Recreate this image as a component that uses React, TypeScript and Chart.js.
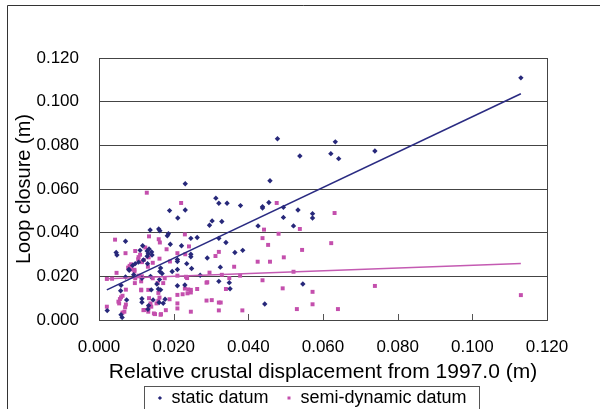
import React, { useEffect, useRef } from "react";
import { Chart, registerables } from "chart.js";

Chart.register(...registerables);

// ---- data (metres) ----
const xTicks = [0, 0.02, 0.04, 0.06, 0.08, 0.1, 0.12];
const yTicks = [0, 0.02, 0.04, 0.06, 0.08, 0.1, 0.12];

const staticLabel = "static datum";
const semiLabel = "semi-dynamic datum";
const xTitle = "Relative crustal displacement from 1997.0 (m)";
const yTitle = "Loop closure (m)";

const staticDatum: [number, number][] = [
  [0.1130, 0.1109], [0.0739, 0.0774], [0.0478, 0.0830], [0.0633, 0.0816], [0.0621, 0.0762],
  [0.0642, 0.0739], [0.0538, 0.0751], [0.0458, 0.0638], [0.0231, 0.0624], [0.0313, 0.0558],
  [0.0321, 0.0535], [0.0343, 0.0535], [0.0379, 0.0524], [0.0438, 0.0519], [0.0438, 0.0513],
  [0.0455, 0.0538], [0.0494, 0.0516], [0.0533, 0.0504], [0.0572, 0.0487], [0.0572, 0.0467],
  [0.0494, 0.0470], [0.0521, 0.0431], [0.0426, 0.0431], [0.0231, 0.0504], [0.0189, 0.0501],
  [0.0211, 0.0467], [0.0296, 0.0434], [0.0303, 0.0454], [0.0329, 0.0451], [0.0444, 0.0073],
  [0.0546, 0.0165], [0.0351, 0.0143], [0.0349, 0.0171], [0.0321, 0.0177], [0.0325, 0.0242],
  [0.0364, 0.0309], [0.0385, 0.0319], [0.0340, 0.0355], [0.0321, 0.0374], [0.0263, 0.0378],
  [0.0246, 0.0374], [0.0290, 0.0284], [0.0271, 0.0205], [0.0137, 0.0412], [0.0160, 0.0417],
  [0.0163, 0.0409], [0.0183, 0.0386], [0.0186, 0.0395], [0.0191, 0.0347], [0.0221, 0.0340],
  [0.0246, 0.0301], [0.0246, 0.0290], [0.0210, 0.0268], [0.0210, 0.0277], [0.0235, 0.0258],
  [0.0248, 0.0236], [0.0210, 0.0231], [0.0196, 0.0222], [0.0165, 0.0238], [0.0163, 0.0222],
  [0.0169, 0.0213], [0.0138, 0.0200], [0.0115, 0.0191], [0.0093, 0.0207], [0.0071, 0.0197],
  [0.0080, 0.0231], [0.0090, 0.0250], [0.0097, 0.0258], [0.0106, 0.0265], [0.0130, 0.0258],
  [0.0119, 0.0275], [0.0129, 0.0292], [0.0142, 0.0298], [0.0129, 0.0316], [0.0134, 0.0325],
  [0.0110, 0.0319], [0.0117, 0.0340], [0.0071, 0.0361], [0.0046, 0.0309], [0.0048, 0.0298],
  [0.0132, 0.0304], [0.0141, 0.0312], [0.0210, 0.0157], [0.0230, 0.0160], [0.0155, 0.0165],
  [0.0165, 0.0138], [0.0140, 0.0138], [0.0145, 0.0092], [0.0133, 0.0066], [0.0131, 0.0049],
  [0.0115, 0.0081], [0.0115, 0.0097], [0.0074, 0.0092], [0.0058, 0.0134], [0.0059, 0.0159],
  [0.0022, 0.0043], [0.0059, 0.0024], [0.0062, 0.0012], [0.0172, 0.0077], [0.0162, 0.0185],
  [0.0159, 0.0142], [0.0161, 0.0080], [0.0177, 0.0095], [0.0081, 0.0228],
];

const semiDynamicDatum: [number, number][] = [
  [0.1130, 0.0114], [0.0739, 0.0156], [0.0128, 0.0583], [0.0220, 0.0536], [0.0476, 0.0536],
  [0.0631, 0.0490], [0.0622, 0.0352], [0.0538, 0.0417], [0.0442, 0.0414], [0.0438, 0.0375],
  [0.0481, 0.0395], [0.0453, 0.0344], [0.0544, 0.0321], [0.0495, 0.0287], [0.0425, 0.0267],
  [0.0458, 0.0267], [0.0521, 0.0221], [0.0362, 0.0244], [0.0378, 0.0203], [0.0438, 0.0182],
  [0.0492, 0.0145], [0.0572, 0.0129], [0.0572, 0.0072], [0.0530, 0.0050], [0.0640, 0.0050],
  [0.0384, 0.0044], [0.0321, 0.0080], [0.0326, 0.0080], [0.0321, 0.0044], [0.0302, 0.0091],
  [0.0288, 0.0171], [0.0296, 0.0217], [0.0329, 0.0207], [0.0340, 0.0142], [0.0288, 0.0089],
  [0.0312, 0.0293], [0.0321, 0.0312], [0.0263, 0.0142], [0.0246, 0.0038], [0.0246, 0.0126],
  [0.0246, 0.0138], [0.0349, 0.0192], [0.0043, 0.0368], [0.0134, 0.0383], [0.0160, 0.0370],
  [0.0163, 0.0355], [0.0230, 0.0392], [0.0241, 0.0337], [0.0231, 0.0301], [0.0210, 0.0306],
  [0.0181, 0.0324], [0.0124, 0.0332], [0.0097, 0.0316], [0.0071, 0.0306], [0.0086, 0.0255],
  [0.0082, 0.0248], [0.0078, 0.0240], [0.0087, 0.0232], [0.0095, 0.0230], [0.0095, 0.0223],
  [0.0106, 0.0288], [0.0105, 0.0278], [0.0110, 0.0299], [0.0115, 0.0265], [0.0120, 0.0275],
  [0.0133, 0.0287], [0.0162, 0.0281], [0.0144, 0.0262], [0.0190, 0.0268], [0.0131, 0.0244],
  [0.0115, 0.0200], [0.0106, 0.0203], [0.0097, 0.0191], [0.0047, 0.0216], [0.0035, 0.0189],
  [0.0144, 0.0191], [0.0176, 0.0191], [0.0210, 0.0203], [0.0233, 0.0198], [0.0236, 0.0192],
  [0.0290, 0.0173], [0.0230, 0.0144], [0.0239, 0.0140], [0.0210, 0.0115], [0.0224, 0.0118],
  [0.0237, 0.0122], [0.0210, 0.0076], [0.0210, 0.0053], [0.0189, 0.0095], [0.0162, 0.0103],
  [0.0159, 0.0088], [0.0154, 0.0076], [0.0159, 0.0124], [0.0134, 0.0100], [0.0138, 0.0076],
  [0.0133, 0.0061], [0.0140, 0.0061], [0.0113, 0.0139], [0.0119, 0.0045], [0.0147, 0.0030],
  [0.0165, 0.0024], [0.0179, 0.0045], [0.0072, 0.0139], [0.0063, 0.0111], [0.0056, 0.0096],
  [0.0054, 0.0076], [0.0072, 0.0071], [0.0070, 0.0058], [0.0063, 0.0034], [0.0021, 0.0061],
  [0.0021, 0.0188], [0.0052, 0.0084], [0.0059, 0.0104], [0.0068, 0.0038], [0.0121, 0.0046],
  [0.0132, 0.0038], [0.0150, 0.0027], [0.0166, 0.0027], [0.0113, 0.0136], [0.0132, 0.0138],
  [0.0157, 0.0169], [0.0172, 0.0169], [0.0096, 0.0169], [0.0113, 0.0177],
];

const staticTrend: [number, number][] = [[0.0021, 0.0138], [0.1130, 0.1036]];
const semiTrend: [number, number][] = [[0.0021, 0.0189], [0.1130, 0.0259]];

const NAVY = "#27287a";
const PINK = "#c44fad";
const FONT = "'Liberation Sans', Arial, sans-serif";

const toXY = (arr: [number, number][]) => arr.map(([x, y]) => ({ x, y }));

const decorPlugin = {
  id: "decor",
  afterLayout(chart: any) {
    const lg = chart.legend;
    if (lg) {
      const shift = 312 - (lg.left + lg.right) / 2;
      lg.left += shift;
      lg.right += shift;
    }
  },
  beforeDraw(chart: any) {
    const ctx = chart.ctx;
    ctx.save();
    ctx.strokeStyle = "#333";
    ctx.lineWidth = 1;
    ctx.beginPath();
    ctx.moveTo(7.5, 409);
    ctx.lineTo(7.5, 5.5);
    ctx.lineTo(600, 5.5);
    ctx.stroke();
    ctx.restore();
  },
  afterDraw(chart: any) {
    const ctx = chart.ctx;
    const a = chart.chartArea;
    const xs = chart.scales.x;
    ctx.save();
    ctx.lineWidth = 1;
    // inner x tick marks
    ctx.strokeStyle = "#555";
    ctx.beginPath();
    xTicks.slice(1, -1).forEach((v) => {
      const px = Math.round(xs.getPixelForValue(v)) + 0.5;
      ctx.moveTo(px, a.bottom);
      ctx.lineTo(px, a.bottom - 6);
    });
    ctx.stroke();
    // plot frame
    ctx.strokeStyle = "#444";
    ctx.strokeRect(Math.round(a.left) + 0.5, Math.round(a.top) + 0.5, Math.round(a.right - a.left), Math.round(a.bottom - a.top));
    // legend frame
    const lg = chart.legend;
    if (lg && lg.legendHitBoxes && lg.legendHitBoxes.length) {
      const hb = lg.legendHitBoxes;
      const l = hb[0].left - 13;
      const last = hb[hb.length - 1];
      const r = last.left + last.width + 13;
      ctx.strokeStyle = "#555";
      ctx.strokeRect(Math.round(l) + 0.5, Math.round(lg.top) + 0.5, Math.round(r - l), 24);
    }
    ctx.restore();
  },
};

export default function App() {
  const ref = useRef<HTMLCanvasElement | null>(null);

  useEffect(() => {
    if (!ref.current) return;
    Chart.defaults.font.family = FONT;
    Chart.defaults.color = "#000";
    const chart = new Chart(ref.current, {
      type: "scatter",
      data: {
        datasets: [
          {
            label: staticLabel,
            data: toXY(staticDatum),
            pointStyle: "rectRot",
            pointRadius: 2.7,
            backgroundColor: NAVY,
            borderColor: NAVY,
            borderWidth: 0,
            order: 3,
          },
          {
            label: semiLabel,
            data: toXY(semiDynamicDatum),
            pointStyle: "rect",
            pointRadius: 2.8,
            backgroundColor: PINK,
            borderColor: PINK,
            borderWidth: 0,
            order: 4,
          },
          {
            label: "static trend",
            data: toXY(staticTrend),
            showLine: true,
            borderColor: "#2a2b82",
            borderWidth: 1.6,
            pointRadius: 0,
            order: 1,
          },
          {
            label: "semi trend",
            data: toXY(semiTrend),
            showLine: true,
            borderColor: "#c45ab2",
            borderWidth: 1.6,
            pointRadius: 0,
            order: 2,
          },
        ],
      } as any,
      options: {
        responsive: false,
        animation: false,
        devicePixelRatio: 1,
        layout: { padding: { top: 58, right: 53, bottom: -8, left: 0 } },
        scales: {
          x: {
            type: "linear",
            min: 0,
            max: 0.12,
            afterBuildTicks: (s: any) => {
              s.ticks = xTicks.map((v) => ({ value: v }));
            },
            ticks: {
              font: { size: 17, family: FONT },
              color: "#000",
              padding: 17,
              maxRotation: 0,
              callback: (v: any) => Number(v).toFixed(3),
            },
            grid: { display: false, drawTicks: false },
            border: { display: false },
            title: {
              display: true,
              text: xTitle,
              font: { size: 21, family: FONT },
              color: "#000",
              padding: { top: 0, bottom: 1 },
            },
            afterFit: (s: any) => {
              s.height = 66;
            },
          },
          y: {
            type: "linear",
            min: 0,
            max: 0.12,
            afterBuildTicks: (s: any) => {
              s.ticks = yTicks.map((v) => ({ value: v }));
            },
            ticks: {
              font: { size: 17, family: FONT },
              color: "#000",
              padding: 20,
              callback: (v: any) => Number(v).toFixed(3),
            },
            grid: { color: "#444", lineWidth: 1, drawTicks: false },
            border: { display: false },
            title: {
              display: true,
              text: yTitle,
              font: { size: 20, family: FONT },
              color: "#000",
              padding: { top: 12, bottom: 0 },
            },
            afterFit: (s: any) => {
              s.width = 99;
            },
          },
        },
        plugins: {
          tooltip: { enabled: false },
          legend: {
            display: true,
            position: "bottom",
            labels: {
              usePointStyle: true,
              boxWidth: 5,
              boxHeight: 3,
              padding: 3,
              font: { size: 18, family: FONT },
              color: "#000",
              filter: (item: any) => item.datasetIndex < 2,
              generateLabels: (c: any) => {
                const items = (Chart.defaults.plugins.legend.labels as any).generateLabels(c);
                items.forEach((it: any) => {
                  if (it.datasetIndex === 0) it.text = staticLabel + "   ";
                });
                return items;
              },
            },
          },
        },
      } as any,
      plugins: [decorPlugin],
    });
    return () => chart.destroy();
  }, []);

  return (
    <div style={{ position: "absolute", left: 0, top: 0, width: 600, height: 409, background: "#fff" }}>
      <canvas ref={ref} width={600} height={409} style={{ display: "block", width: 600, height: 409 }} />
    </div>
  );
}
